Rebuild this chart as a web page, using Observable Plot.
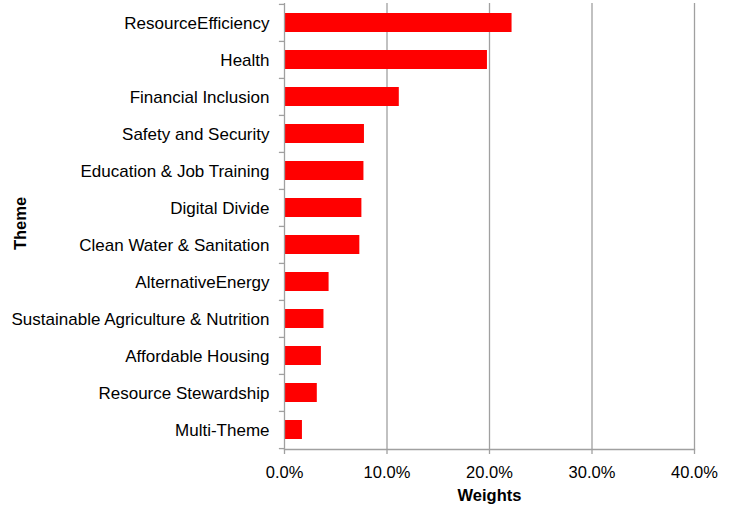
<!DOCTYPE html>
<html>
<head>
<meta charset="utf-8">
<script src="https://cdn.jsdelivr.net/npm/d3@7"></script>
<script src="https://cdn.jsdelivr.net/npm/@observablehq/plot@0.6"></script>
<style>
  html, body { margin: 0; padding: 0; background: #fff; }
</style>
</head>
<body>
<div id="chart"></div>
<script>
const themes = [
  "ResourceEfficiency",
  "Health",
  "Financial Inclusion",
  "Safety and Security",
  "Education & Job Training",
  "Digital Divide",
  "Clean Water & Sanitation",
  "AlternativeEnergy",
  "Sustainable Agriculture & Nutrition",
  "Affordable Housing",
  "Resource Stewardship",
  "Multi-Theme"
];
const weights = [22.2, 19.8, 11.2, 7.8, 7.75, 7.55, 7.35, 4.35, 3.85, 3.6, 3.2, 1.75];
const xTicks = [0, 10, 20, 30, 40];

const data = themes.map((t, i) => ({theme: t, weight: weights[i]}));

const W = 731, H = 508, mt = 3, mb = 59, ml = 284, mr = 37;
const step = (H - mt - mb) / themes.length;
const gray = "#a0a0a0";

const chart = Plot.plot({
  width: W,
  height: H,
  marginTop: mt,
  marginBottom: mb,
  marginLeft: ml,
  marginRight: mr,
  style: {fontFamily: "'Liberation Sans', Arial, sans-serif", fontSize: "16.5px", color: "#000", background: "#fff"},
  x: {domain: [0, 40], ticks: xTicks},
  y: {domain: themes, paddingInner: 0.5, paddingOuter: 0.25},
  marks: [
    Plot.gridX(xTicks.slice(1), {stroke: gray, strokeOpacity: 1, strokeWidth: 1.3}),
    Plot.barX(data, {y: "theme", x: "weight", fill: "#ff0000"}),
    Plot.ruleX([0], {stroke: gray, strokeWidth: 1.3}),
    Plot.frame({anchor: "bottom", stroke: gray, strokeWidth: 1.3}),
    Plot.ruleY(themes, {y: d => d, x1: -0.5, x2: 0, dy: -step / 2, stroke: gray, strokeWidth: 1.3}),
    Plot.ruleY([themes[themes.length - 1]], {y: d => d, x1: -0.5, x2: 0, dy: step / 2, stroke: gray, strokeWidth: 1.3}),
    Plot.axisX(xTicks, {tickSize: 5, tickPadding: 12, stroke: gray, strokeWidth: 1.3, fontSize: 16.5, tickFormat: d => d.toFixed(1) + "%", label: null}),
    Plot.axisY({tickSize: 0, tickPadding: 15, fontSize: 17, dy: 1, label: null}),
    Plot.text(["Weights"], {frameAnchor: "bottom", lineAnchor: "middle", dy: 46, fontWeight: "bold", fontSize: 16.5}),
    Plot.text(["Theme"], {frameAnchor: "left", textAnchor: "middle", lineAnchor: "middle", dx: -264, dy: -3, rotate: -90, fontWeight: "bold", fontSize: 16.5})
  ]
});
document.getElementById("chart").appendChild(chart);
</script>
</body>
</html>
